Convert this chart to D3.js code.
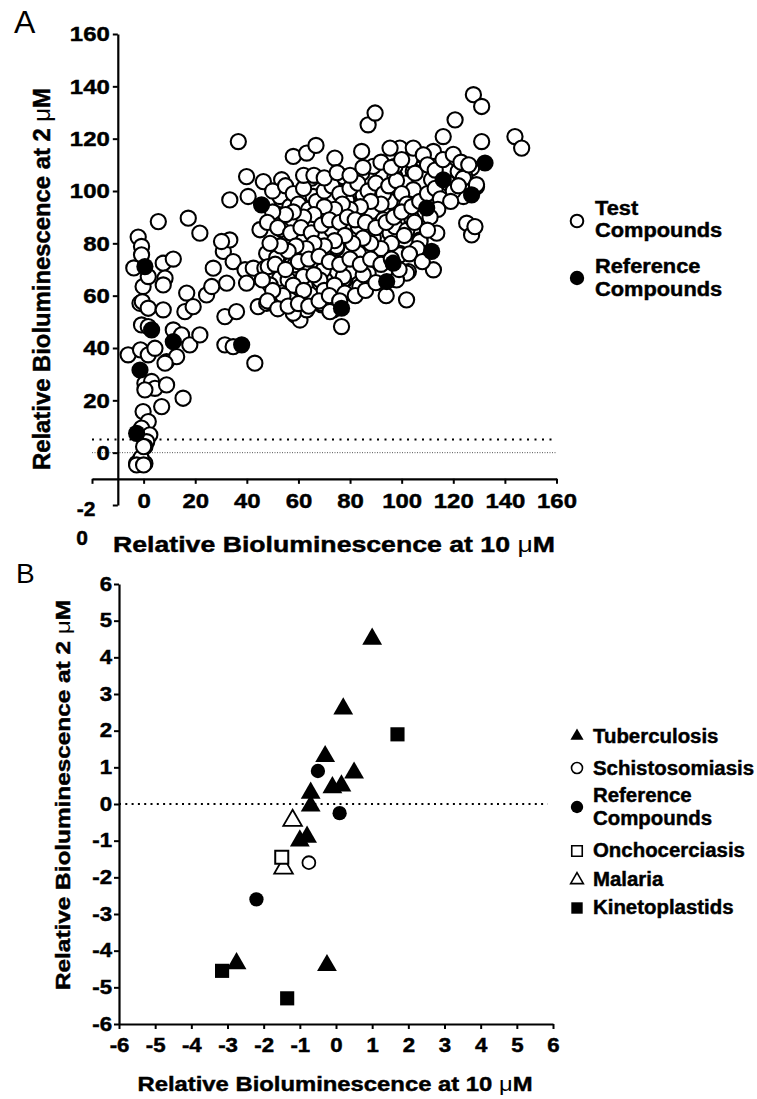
<!DOCTYPE html>
<html><head><meta charset="utf-8">
<script src="https://cdn.jsdelivr.net/npm/d3@7"></script>
<style>
body{margin:0;background:#fff;}
svg{display:block;}
text{font-family:"Liberation Sans",Arial,sans-serif;fill:#000;}
text.b{stroke:#000;stroke-width:0.45px;}
</style></head>
<body><svg id="c" width="757" height="1099"></svg>
<script>
// ---------- Panel A data ----------
const testPoints = [
[-2.1,82.4],[-0.8,78.8],[-3.8,70.6],[-0.8,75.6],[-0.2,63.5],[1.8,67.3],[-1.4,57.1],[-0.5,57.7],[1.8,55.2],[-0.8,48.8],[1.8,48.2],[-6,37.4],[-1.2,39.3],[1.8,37.4],[4.4,39.9],[0.5,26.5],[3.1,27.2],[4.4,24.6],[0.5,24],[8.9,25.9],[-0.2,15.7],[1.8,11.9],[-0.8,9.4],[2.4,6.8],[1.2,4.2],[0.5,2.3],[-2.7,-4.1],[0.5,-4.1],[-1,-2],[0,2.3],[-2.7,-4.7],[0,-4.7],
[5.7,88.3],[7.6,72.4],[11.5,74],[8.3,66.7],[7.6,64.1],[7.6,54.6],[11.5,46.9],[8.9,34.8],[12.8,36.7],[14.7,45],[17.9,41.2],[21.8,45],[15.3,20.8],[7,17.6],[16.7,61],[16,53.9],[19.2,55.8],[17.3,89.6],[21.8,83.9],[24.4,60.3],[26.4,63.5],[27,70.5],[30.9,76.9],[33.4,81.3],[30.2,80.7],[34.7,73],[32.2,64.8],[31.5,52],[36,53.9],[31.5,41.2],[34.7,40.5],[43.1,34.2],[39.3,69.9],[42.5,70.5],[33.4,96.6],[39.9,105.5],[40.5,97.9],[46.4,103.6],[45.1,85.2],[44.4,55.8],[47.7,76.2],[47,70.5],[36.7,118.9],[8.3,34.2],[39.9,64.8],[47.7,57.1],[52.8,57.7],[56.7,58.4],[58.6,52.7],[60.6,50.7],[63.2,54.6],[65.7,60.3],[69,56.5],[73.5,54.6],[78,66],[73.5,69.2],[68.3,64.8],[52.8,66.7],[49,64.1],[63.8,71.8],
[58,113.2],[63.2,114.5],[66.8,117.4],[74.1,112.6],[87,125.3],[89.7,129.8],[84.5,115.1],[84.5,106.8],[53.5,104.3],[53.5,96.6],[65.1,104.9],[71.6,104.3],[78.7,104.3],[72.2,96.6],[79.3,97.9],[65.7,97.9],[85.1,97.3],[88.4,92.2],[56.7,89],[64.5,89],[73.5,86.4],[83.2,86.4],[62.5,81.3],[74.8,78.2],[83.2,76.2],[52.8,75.6],[58.6,71.8],
[77.4,105.5],[92.9,106.2],[52.8,97.9],[85.1,98.5],[90.3,100.5],[96.7,96.6],[56.7,94.1],[74.8,91.5],[81.2,92.2],[52.2,90.2],[95.5,83.9],[53.5,85.2],[61.9,81.3],[69,82.6],[89,82],[55.4,80.1],[91.6,77.5],[51.6,74.5],[62.5,76.2],[48.3,71.1],[68.4,70.5],[74.1,69.2],[80,69.2],[61.9,67.3],[56,66],[77.4,66],[70.3,66],[83.8,63.5],[49,57.7],[58,53.3],[69,57.1],[72.2,53.9],[76.7,48.2],
[127.8,136.8],[131,132.3],[120.7,127.2],[116.1,120.8],[131,118.9],[143.9,120.8],[146.5,116.4],[112.3,115.1],[99.3,116.4],[107.7,113.8],[104.5,107.5],[117.4,108.1],[121.9,107.5],[127.1,108.8],[124.5,105.5],[129,101.7],[123.9,97.9],[116.1,100.5],[111.6,104.3],[103.9,97.9],[99.3,101.1],[108.4,90.2],[98.1,91.5],[100.6,86.4],[107.1,81.3],[113.6,83.9],[125.2,87.7],[127.1,83.2],[128.4,86.4],[99.3,76.2],[112.3,69.9],[102.6,69.2],[101.9,58.4],[95.5,116.4],[103.2,111.9],[97.4,105.5],[101.3,103],[104.5,100.5],[95.5,96],[97.4,86.4],[102,85],[103.9,89.6],[104.5,116.4],[108.4,113.8],[123.9,104.9],[129,102.4],[89,109.4],[105.2,106.8],[97.4,109.4],[78.7,96.6],[92.9,89],[72.9,85.2],[74.8,78.8],[99.3,75.6],[69.6,69.9],[77.4,67.3],[87,68.6],[107.1,80.7],[101.9,68.6],[85.1,68],[68.3,66],
[50,100],[55,102],[58,99],[62,101],[60,95],[64,93],[67,96],[70,100],[73,102],[76,99],[80,101],[83,103],[87,100],[90,103],[93,99],[95,102],[98,104],[100,99],[102,95],[92,95],[88,96],[84,94],[80,93],[77,95],[74,93],[70,94],[66,91],[62,90],[58,92],[55,91],[50,92],[48,88],[52,86],[57,84],[61,86],[65,84],[69,87],[72,89],[76,88],[79,90],[82,89],[86,88],[90,86],[94,88],[97,90],[100,92],[104,94],[107,96],[110,99],[113,101],[115,97],[118,103],[120,100],[122,102],[119,96],[114,93],[111,90],[105,88],[101,83],[96,80],[92,78],[88,80],[85,82],[81,80],[78,83],[74,81],[70,79],[66,80],[63,78],[59,79],[56,77],[53,79],[49,80],[51,72],[55,70],[60,73],[64,74],[68,75],[72,73],[76,72],[80,74],[84,72],[88,74],[92,72],[96,74],[58,64],[62,62],[66,68],[70,62],[74,64],[78,61],[82,60],[86,62],[90,65],[94,60],[98,66],[54,60],[50,62],[46,66],[48,58],[52,55],[56,56],[60,57],[64,56],[68,58],[72,60],[76,58],[62,106],[66,106],[70,105],[75,107],[80,106],[85,109],[92,111],[96,109],[100,112],[110,110],[113,108],[116,112],[120,114],[123,111],[126,110],[110,85],[106,78],[103,76],[108,73],[99,70]
];
const referencePoints = [
[0.5,71.1],[3.1,46.9],[-1.4,31.6],[-2.7,7.4],[11.5,42.4],[38,41.2],[45.7,94.7],[76.7,55.2],[94.2,65.4],[132.3,110.7],[116.1,104.3],[127.1,98.5],[109.7,93.5],[111.6,76.9],[96.7,72.4]
];
const ticksA = [0,20,40,60,80,100,120,140,160];
const cutoffA = 5;

// ---------- Panel B data ----------
const tbX = [1.0,0.2,-0.3,0.5,-0.1,0.15,-0.7,-0.7,-0.8,-1.0,-2.75,-0.25];
const tbY = [4.5,2.6,1.3,0.85,0.45,0.5,0.3,-0.05,-0.9,-1.0,-4.35,-4.4];
const schX = [-0.75], schY = [-1.6];
const refBX = [-0.5,0.1,-2.2], refBY = [0.9,-0.25,-2.6];
const onchoX = [-1.5], onchoY = [-1.45];
const malX = [-1.2,-1.45], malY = [-0.45,-1.75];
const kinX = [1.7,-3.15,-1.35], kinY = [1.9,-4.55,-5.3];
const ticksB = [-6,-5,-4,-3,-2,-1,0,1,2,3,4,5,6];

const svg = d3.select("#c");
const SX = 1.14;
function stretch(sel,k){
  sel.each(function(){
    const w=this.getComputedTextLength();
    d3.select(this).attr("textLength",w*k).attr("lengthAdjust","spacingAndGlyphs");
  });
}
function styleAxis(g,fs){
  g.attr("font-family",null).attr("font-size",null);
  g.select(".domain").attr("stroke","#000").attr("stroke-width",2.2);
  g.selectAll(".tick line").attr("stroke","#000").attr("stroke-width",2);
  g.selectAll(".tick text").attr("class","b").attr("font-size",fs).attr("font-weight","bold").attr("fill","#000");
  stretch(g.selectAll(".tick text"),SX);
}
const fmt = d => String(d);  // plain hyphen-minus

// ================= PANEL A =================
const xA = d3.scaleLinear().domain([-20,160]).range([92,556.5]);
const yA = d3.scaleLinear().domain([-20,160]).range([505,34]);
const gA = svg.append("g");

gA.append("line").attr("x1",xA(-20)).attr("x2",xA(159)).attr("y1",yA(cutoffA)).attr("y2",yA(cutoffA))
  .attr("stroke","#000").attr("stroke-width",2).attr("stroke-dasharray","2,5.5");
gA.append("line").attr("x1",xA(-20)).attr("x2",xA(160)).attr("y1",yA(0)).attr("y2",yA(0))
  .attr("stroke","#555").attr("stroke-width",1).attr("stroke-dasharray","1,1.5");

const axYA = gA.append("g").attr("transform",`translate(${xA(-10)},0)`)
  .call(d3.axisLeft(yA).tickValues([-20].concat(ticksA)).tickSize(5).tickSizeOuter(0).tickPadding(3)
  .tickFormat(d=>d===-20?"":fmt(d)));
styleAxis(axYA,21);
const axXA = gA.append("g").attr("transform",`translate(0,${yA(-10)})`)
  .call(d3.axisBottom(xA).tickValues([-20].concat(ticksA)).tickSize(5).tickSizeOuter(0).tickPadding(9)
  .tickFormat(d=>d===-20?"":fmt(d)));
styleAxis(axXA,21);
const wl = gA.append("text").attr("class","b").attr("font-size",21).attr("font-weight","bold").attr("text-anchor","middle");
wl.append("tspan").attr("x",86).attr("y",516).text("-2");
wl.append("tspan").attr("x",82).attr("y",545).text("0");

gA.append("g").selectAll("circle").data(testPoints).join("circle")
  .attr("cx",d=>xA(d[0])).attr("cy",d=>yA(d[1])).attr("r",7.6)
  .attr("fill","#fff").attr("stroke","#000").attr("stroke-width",2.1);
gA.append("g").selectAll("circle").data(referencePoints).join("circle")
  .attr("cx",d=>xA(d[0])).attr("cy",d=>yA(d[1])).attr("r",8.6).attr("fill","#000");

const tA = gA.append("text").attr("class","b").attr("x",334).attr("y",552).attr("text-anchor","middle")
  .attr("font-size",22.5).attr("font-weight","bold");
tA.append("tspan").text("Relative Bioluminescence at 10 ");
tA.append("tspan").attr("font-weight","normal").attr("stroke-width",0).text("\u03bc");
tA.append("tspan").text("M");
tA.attr("textLength",442).attr("lengthAdjust","spacingAndGlyphs");
const tAy = gA.append("text").attr("class","b").attr("transform","translate(50,279) rotate(-90)").attr("text-anchor","middle")
  .attr("font-size",23).attr("font-weight","bold");
tAy.append("tspan").text("Relative Bioluminescence at 2 ");
tAy.append("tspan").attr("font-weight","normal").attr("stroke-width",0).text("\u03bc");
tAy.append("tspan").text("M");
tAy.attr("textLength",382).attr("lengthAdjust","spacingAndGlyphs");
gA.append("text").attr("x",14).attr("y",33).attr("font-size",32).text("A");

gA.append("circle").attr("cx",577).attr("cy",221).attr("r",6.3).attr("fill","#fff").attr("stroke","#000").attr("stroke-width",2);
gA.append("circle").attr("cx",577).attr("cy",278).attr("r",7.2).attr("fill","#000");
const legA = [["Test",215],["Compounds",237],["Reference",273],["Compounds",296]];
const lt = gA.selectAll("text.lg").data(legA).join("text").attr("class","lg b")
  .attr("x",595).attr("y",d=>d[1]).attr("font-size",20).attr("font-weight","bold").text(d=>d[0]);
stretch(lt,1.09);

// ================= PANEL B =================
const xB = d3.scaleLinear().domain([-6,6]).range([119,553]);
const yB = d3.scaleLinear().domain([-6,6]).range([1024,584]);
const gB = svg.append("g");
gB.append("line").attr("x1",xB(-6)).attr("x2",xB(5.85)).attr("y1",yB(0)).attr("y2",yB(0))
  .attr("stroke","#000").attr("stroke-width",2).attr("stroke-dasharray","2,4.3");
const axYB = gB.append("g").attr("transform",`translate(${xB(-6)},0)`)
  .call(d3.axisLeft(yB).tickValues(ticksB).tickSize(5).tickSizeOuter(0).tickPadding(2).tickFormat(fmt));
styleAxis(axYB,19.5);
const axXB = gB.append("g").attr("transform",`translate(0,${yB(-6)})`)
  .call(d3.axisBottom(xB).tickValues(ticksB).tickSize(5).tickSizeOuter(0).tickPadding(9).tickFormat(fmt));
styleAxis(axXB,19.5);

const tri = d3.symbol().type(d3.symbolTriangle);
const sq = d3.symbol().type(d3.symbolSquare);
const circ = d3.symbol().type(d3.symbolCircle);
function pts(xs,ys){return xs.map((x,i)=>[x,ys[i]]);}
function drawSym(data,gen,size,fill,stroke,sw){
  gB.append("g").selectAll("path").data(data).join("path")
    .attr("transform",d=>`translate(${xB(d[0])},${yB(d[1])})`)
    .attr("d",gen.size(size)())
    .attr("fill",fill).attr("stroke",stroke).attr("stroke-width",sw);
}
drawSym(pts(malX,malY),tri,150,"#fff","#000",1.8);
drawSym(pts(onchoX,onchoY),sq,170,"#fff","#000",2);
drawSym(pts(schX,schY),circ,130,"#fff","#000",1.8);
drawSym(pts(tbX,tbY),tri,170,"#000","none",0);
drawSym(pts(refBX,refBY),circ,160,"#000","none",0);
drawSym(pts(kinX,kinY),sq,200,"#000","none",0);

const tB = gB.append("text").attr("class","b").attr("x",335).attr("y",1091).attr("text-anchor","middle")
  .attr("font-size",21).attr("font-weight","bold");
tB.append("tspan").text("Relative Bioluminescence at 10 ");
tB.append("tspan").attr("font-weight","normal").attr("stroke-width",0).text("\u03bc");
tB.append("tspan").text("M");
tB.attr("textLength",395).attr("lengthAdjust","spacingAndGlyphs");
const tBy = gB.append("text").attr("class","b").attr("transform","translate(70,795) rotate(-90)").attr("text-anchor","middle")
  .attr("font-size",21).attr("font-weight","bold");
tBy.append("tspan").text("Relative Bioluminescence at 2 ");
tBy.append("tspan").attr("font-weight","normal").attr("stroke-width",0).text("\u03bc");
tBy.append("tspan").text("M");
tBy.attr("textLength",390).attr("lengthAdjust","spacingAndGlyphs");
gB.append("text").attr("x",16).attr("y",583).attr("font-size",28).text("B");

const legY = [736,768,807,851,880,908];
const legSym = [
  {gen:tri,size:75,fill:"#000",stroke:"none",sw:0},
  {gen:circ,size:95,fill:"#fff",stroke:"#000",sw:1.6},
  {gen:circ,size:120,fill:"#000",stroke:"none",sw:0},
  {gen:sq,size:110,fill:"#fff",stroke:"#000",sw:1.6},
  {gen:tri,size:70,fill:"#fff",stroke:"#000",sw:1.6},
  {gen:sq,size:130,fill:"#000",stroke:"none",sw:0}
];
legSym.forEach((s,i)=>{
  gB.append("path").attr("transform",`translate(577,${legY[i]})`).attr("d",s.gen.size(s.size)())
    .attr("fill",s.fill).attr("stroke",s.stroke).attr("stroke-width",s.sw);
});
const legBLines = [["Tuberculosis",743],["Schistosomiasis",775],["Reference",802],["Compounds",825],["Onchocerciasis",857],["Malaria",886],["Kinetoplastids",914]];
const lb = gB.selectAll("text.lb").data(legBLines).join("text").attr("class","lb b")
  .attr("x",593).attr("y",d=>d[1]).attr("font-size",20).attr("font-weight","bold").text(d=>d[0]);
stretch(lb,1.02);
</script></body></html>
